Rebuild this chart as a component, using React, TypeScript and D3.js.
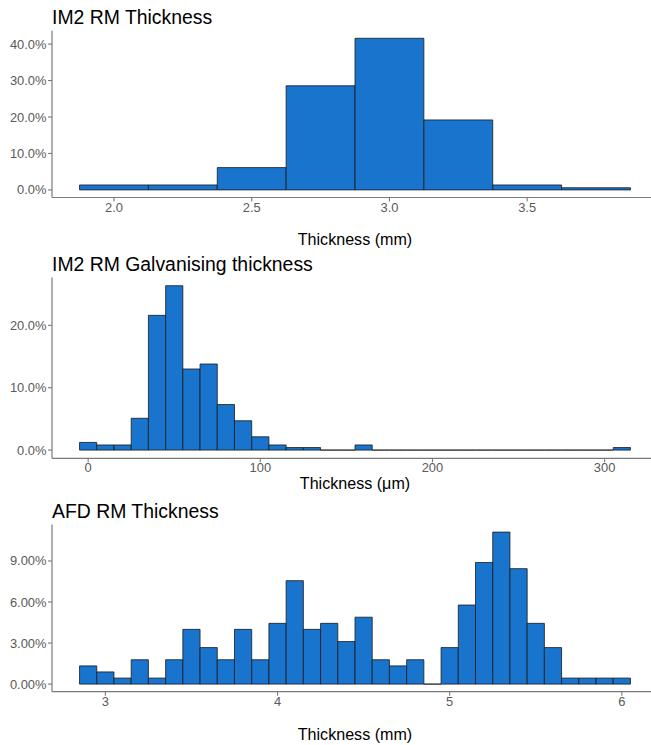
import React from 'react';
import * as d3 from 'd3';

const W = 651;
const H = 745;

// Panel 1: IM2 RM Thickness (mm), bin width 0.25
const im2Centers = [2.0, 2.25, 2.5, 2.75, 3.0, 3.25, 3.5, 3.75];
const im2Pct = [1.36, 1.36, 6.12, 28.57, 41.6, 19.2, 1.36, 0.6];
const im2BinWidth = 0.25;
const im2XTicks = [2.0, 2.5, 3.0, 3.5];
const im2YTicks = [0, 10, 20, 30, 40];

// Panel 2: IM2 RM Galvanising thickness (µm), bin width 10
const galvCenters = [0, 10, 20, 30, 40, 50, 60, 70, 80, 90, 100, 110, 120, 130, 140, 150,
  160, 170, 180, 190, 200, 210, 220, 230, 240, 250, 260, 270, 280, 290, 300, 310];
const galvPct = [1.23, 0.82, 0.82, 5.1, 21.6, 26.35, 13.0, 13.8, 7.3, 4.7, 2.13, 0.82, 0.41, 0.41, 0, 0,
  0.82, 0, 0, 0, 0, 0, 0, 0, 0, 0, 0, 0, 0, 0, 0, 0.41];
const galvBinWidth = 10;
const galvXTicks = [0, 100, 200, 300];
const galvYTicks = [0, 10, 20];

// Panel 3: AFD RM Thickness (mm), bin width 0.1
const afdCenters = [2.9, 3.0, 3.1, 3.2, 3.3, 3.4, 3.5, 3.6, 3.7, 3.8, 3.9, 4.0, 4.1, 4.2, 4.3, 4.4,
  4.5, 4.6, 4.7, 4.8, 4.9, 5.0, 5.1, 5.2, 5.3, 5.4, 5.5, 5.6, 5.7, 5.8, 5.9, 6.0];
const afdPct = [1.33, 0.89, 0.44, 1.78, 0.44, 1.78, 4.0, 2.67, 1.78, 4.0, 1.78, 4.44, 7.56, 4.0, 4.44, 3.11,
  4.89, 1.78, 1.33, 1.78, 0, 2.67, 5.78, 8.89, 11.11, 8.44, 4.44, 2.67, 0.44, 0.44, 0.44, 0.44];
const afdBinWidth = 0.1;
const afdXTicks = [3, 4, 5, 6];
const afdYTicks = [0, 3, 6, 9];

const FONT = '"Liberation Sans", Arial, Helvetica, sans-serif';
const FILL = '#1874CD';

type PanelProps = {
  title: string;
  centers: number[];
  pct: number[];
  binWidth: number;
  xTicks: number[];
  xFmt: (v: number) => string;
  yTicks: number[];
  yFmt: (v: number) => string;
  xTitle: string;
  top: number;
  bottom: number;
  xTitleBaseline: number;
};

function Panel(p: PanelProps) {
  const left = 52;
  const right = 658;
  const lo = (d3.min(p.centers) as number) - p.binWidth / 2;
  const hi = (d3.max(p.centers) as number) + p.binWidth / 2;
  const pad = (hi - lo) * 0.05;
  const x = d3.scaleLinear().domain([lo - pad, hi + pad]).range([left, right]);
  const ymax = d3.max(p.pct) as number;
  const y = d3.scaleLinear().domain([-ymax * 0.05, ymax * 1.05]).range([p.bottom, p.top]);

  return (
    <g>
      <text x={left} y={p.top - 7} fontFamily={FONT} fontSize={19.4} fill="#000">{p.title}</text>
      {p.centers.map((c, i) => {
        const x0 = x(c - p.binWidth / 2);
        const x1 = x(c + p.binWidth / 2);
        const y0 = y(0);
        const y1 = y(p.pct[i]);
        return (
          <path key={i} d={`M${x0},${y0}H${x1}V${y1}H${x0}Z`} fill={FILL} stroke="#1a1a1a" strokeWidth={0.8} />
        );
      })}
      {/* axes */}
      <line x1={left} x2={right} y1={p.bottom} y2={p.bottom} stroke="#7a7a7a" strokeWidth={1.2} />
      <line x1={left} x2={left} y1={p.bottom} y2={p.top} stroke="#7a7a7a" strokeWidth={1.2} />
      {p.yTicks.map((t) => (
        <g key={'y' + t}>
          <line x1={left - 4} x2={left} y1={y(t)} y2={y(t)} stroke="#7a7a7a" strokeWidth={1.1} />
          <text x={left - 5.5} y={y(t)} dy="0.35em" textAnchor="end" fontFamily={FONT} fontSize={12.9} fill="#5a5a5a">{p.yFmt(t)}</text>
        </g>
      ))}
      {p.xTicks.map((t) => (
        <g key={'x' + t}>
          <line x1={x(t)} x2={x(t)} y1={p.bottom} y2={p.bottom + 4} stroke="#7a7a7a" strokeWidth={1.1} />
          <text x={x(t)} y={p.bottom + 14} textAnchor="middle" fontFamily={FONT} fontSize={12.9} fill="#5a5a5a">{p.xFmt(t)}</text>
        </g>
      ))}
      <text x={(left + right) / 2} y={p.xTitleBaseline} textAnchor="middle" fontFamily={FONT} fontSize={16.1} fill="#000">{p.xTitle}</text>
    </g>
  );
}

export default function App() {
  const f1 = d3.format('.1f');
  const f0 = d3.format('d');
  const pct1 = (v: number) => v.toFixed(1) + '%';
  const pct2 = (v: number) => v.toFixed(2) + '%';
  return (
    <svg width={W} height={H} style={{ position: 'absolute', left: 0, top: 0, background: '#fff' }}>
      <rect width={W} height={H} fill="#fff" />
      <Panel title="IM2 RM Thickness" centers={im2Centers} pct={im2Pct} binWidth={im2BinWidth}
        xTicks={im2XTicks} xFmt={(v) => f1(v)} yTicks={im2YTicks} yFmt={pct1}
        xTitle="Thickness (mm)" top={30.7} bottom={197.5} xTitleBaseline={245} />
      <Panel title="IM2 RM Galvanising thickness" centers={galvCenters} pct={galvPct} binWidth={galvBinWidth}
        xTicks={galvXTicks} xFmt={(v) => f0(v)} yTicks={galvYTicks} yFmt={pct1}
        xTitle="Thickness (μm)" top={277.5} bottom={458.3} xTitleBaseline={488.5} />
      <Panel title="AFD RM Thickness" centers={afdCenters} pct={afdPct} binWidth={afdBinWidth}
        xTicks={afdXTicks} xFmt={(v) => f0(v)} yTicks={afdYTicks} yFmt={pct2}
        xTitle="Thickness (mm)" top={524.5} bottom={691.7} xTitleBaseline={739.5} />
    </svg>
  );
}
